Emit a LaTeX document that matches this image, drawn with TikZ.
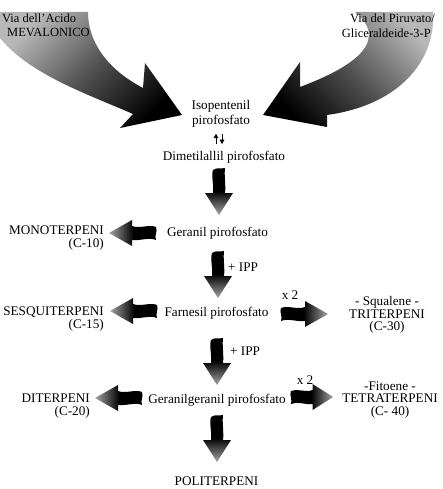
\documentclass[tikz,border=0pt]{standalone}
\usepackage{fontspec}
\setmainfont{Liberation Serif}
\usetikzlibrary{arrows.meta,calc}
\tikzset{
  txt/.style={inner sep=0pt, font=\fontsize{13.2}{13}\selectfont},
  txtb/.style={inner sep=0pt, font=\fontsize{13.2}{12.3}\selectfont},
  toptxt/.style={inner sep=0pt, font=\fontsize{12.5}{14}\selectfont},
  eqarrow/.style={line width=1pt, -{Triangle[length=4.5pt,width=4.5pt]}},
  pics/downarr/.style={code={
    \shade[top color=black, bottom color=black!35, middle color=black]
      (-6,2) .. controls (-2,-1) and (3,1) .. (6,0)
      .. controls (5,8) and (7,17) .. (6,25) -- (14,25) -- (0,47) -- (-14,25) -- (-6,25)
      .. controls (-5,17) and (-8,8) .. (-6,2) -- cycle;
  }},
  pics/rightarr/.style={code={
    \shade[left color=black, right color=black!35, middle color=black]
      (1,-6) .. controls (8,-9) and (17,-4) .. (25,-7) -- (25,-13) -- (48,0) -- (25,13) -- (25,7)
      .. controls (17,8) and (8,4) .. (1,7) .. controls (3,3) and (-1,-2) .. (1,-6) -- cycle;
  }},
  pics/leftarr/.style={code={
    \shade[right color=black, left color=black!35, middle color=black]
      (-1,-6) .. controls (-8,-9) and (-17,-4) .. (-25,-7) -- (-25,-13) -- (-48,0) -- (-25,13) -- (-25,7)
      .. controls (-17,8) and (-8,4) .. (-1,7) .. controls (-3,3) and (1,-2) .. (-1,-6) -- cycle;
  }}
}
\begin{document}
\begin{tikzpicture}[x=1pt,y=-1pt]
\useasboundingbox (0,0) rectangle (443,489);
% big curved arrows
\shade[top color=black!28, bottom color=black, middle color=black!68, shading angle=45]
  (0,12) -- (88,12) .. controls (88,40) and (105,68) .. (143,88) -- (145,63) -- (182,115)
  -- (120,128) -- (133,114) .. controls (90,95) and (30,75) .. (0,38) -- cycle;
\shade[top color=black!28, bottom color=black, middle color=black!68, shading angle=-45]
  (355,12) -- (433,12) .. controls (436,60) and (400,105) .. (327,115) -- (327,127)
  -- (263,115) -- (300,62) -- (300,87) .. controls (340,72) and (395,45) .. (355,12) -- cycle;
% top labels
\node[toptxt, anchor=west] (via1) at (2,18) {Via dell'Acido};
\node[toptxt, anchor=west] (via2) at (7,32) {MEVALONICO};
\node[toptxt, anchor=east] (pir1) at (435,18) {Via del Piruvato/};
\node[toptxt, anchor=east] (pir2) at (431,33) {Gliceraldeide-3-P};
% central column
\node[txt, align=center, font=\fontsize{13.2}{15}\selectfont] (ipp) at (221,114) {Isopentenil\\pirofosfato};
\node[txt] (dma) at (224,157) {Dimetilallil pirofosfato};
\draw[eqarrow] ($(dma.north)+(-8,-6.5)$) -- ($(ipp.south)+(-5,6)$);
\draw[eqarrow] ($(ipp.south)+(1,6)$) -- ($(dma.north)+(-2,-6.5)$);
\pic at (219,168) {downarr};
\node[txt] (gpp) at (217.5,233) {Geranil pirofosfato};
\node[txt, anchor=east, align=right] (mono) at (104,238.5) {MONOTERPENI\\(C-10)};
\pic at (157,233) {leftarr};
\pic at (218,251) {downarr};
\node[txt, anchor=west] (plus1) at (228,267) {+ IPP};
\node[txt] (fpp) at (216.5,313) {Farnesil pirofosfato};
\node[txt, anchor=east, align=right] (sesq) at (104,319.5) {SESQUITERPENI\\(C-15)};
\pic at (158,311) {leftarr};
\pic at (280,314) {rightarr};
\node[txt] (x2a) at (290,295) {x 2};
\node[txtb, align=center] (squal) at (387,315) {- Squalene -\\TRITERPENI\\(C-30)};
\pic at (217,338) {downarr};
\node[txt, anchor=west] (plus2) at (230,351) {+ IPP};
\node[txt] (ggpp) at (217,400) {Geranilgeranil pirofosfato};
\node[txt, anchor=east, align=right] (diter) at (90,406) {DITERPENI\\(C-20)};
\pic at (143,398) {leftarr};
\pic[xscale=0.9] at (290,397) {rightarr};
\node[txt] (x2b) at (305,380) {x 2};
\node[txtb, align=center] (fito) at (390,400) {-Fitoene -\\TETRATERPENI\\(C- 40)};
\pic at (217,415) {downarr};
\node[txt] (poli) at (216.5,481) {POLITERPENI};
\end{tikzpicture}
\end{document}
